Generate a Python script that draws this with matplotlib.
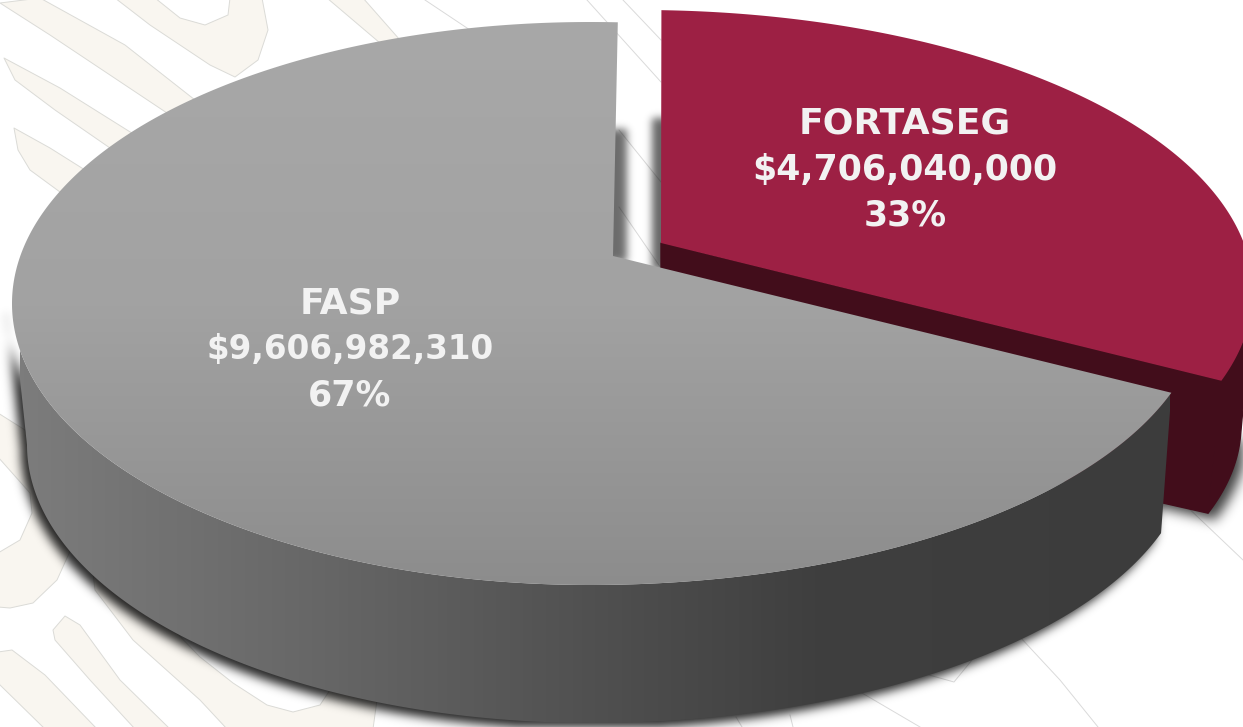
import numpy as np
import matplotlib
matplotlib.use("Agg")
import matplotlib.pyplot as plt
from matplotlib.path import Path
from matplotlib.patches import Polygon
from matplotlib.colors import LinearSegmentedColormap

# ---- data ----
categories = ["FORTASEG", "FASP"]
amounts = [4706040000, 9606982310]
percent_labels = ["33%", "67%"]
color_red_top = "#9d2044"
color_red_side = "#420d1b"

W, H = 1243, 727
fig = plt.figure(figsize=(W / 100, H / 100), dpi=100, facecolor="white")
ax = fig.add_axes([0, 0, 1, 1])
ax.set_xlim(0, W)
ax.set_ylim(H, 0)
ax.axis("off")

# ---- projection of the pie's slanted circles ----
M = 0.79                 # perspective squeeze of angles
PHI0 = np.radians(2.6)   # the "12 o'clock" of the tilted disc


def to_phi(theta):
    return PHI0 + 2 * np.arctan(M * np.tan(theta / 2))


def rim(phi, c, rxl, rxr, ry):
    s, co = np.sin(phi), np.cos(phi)
    rx = np.where(s < 0, rxl, rxr)
    return np.column_stack([c[0] + rx * s, c[1] - ry * co])


total = sum(amounts)
split = 2 * np.pi * amounts[0] / total
phi_split = to_phi(split)

# ---- background decoration ----
BEIGE = "#f9f6f0"
EDGE = "#dbdbd7"
shapes = [
    [(0, 3), (40, -2), (125, 45), (195, 100), (170, 115), (110, 75), (50, 35)],
    [(4, 58), (60, 88), (135, 135), (110, 148), (55, 110), (15, 80)],
    [(14, 128), (50, 148), (85, 170), (60, 192), (30, 170), (18, 150)],
    [(115, -2), (150, 25), (210, 65), (235, 77), (258, 60), (268, 30), (262, -2),
     (230, -2), (228, 15), (205, 25), (180, 18), (155, -2)],
    [(327, -2), (380, 43), (400, 40), (363, -2)],
    [(-2, 413), (25, 430), (72, 547), (57, 580), (33, 603), (10, 608), (-2, 607),
     (-2, 553), (20, 540), (32, 513), (30, 493), (-2, 457)],
    [(53, 630), (65, 616), (80, 625), (120, 680), (170, 729), (135, 729), (90, 680), (55, 640)],
    [(-2, 652), (12, 650), (45, 675), (97, 729), (45, 729), (-2, 683)],
    [(93, 573), (95, 590), (133, 640), (200, 700), (227, 729), (373, 729), (377, 700),
     (330, 690), (320, 705), (293, 712), (267, 705), (233, 683), (200, 657), (167, 623)],
]
for pts in shapes:
    ax.add_patch(Polygon(pts, closed=True, fc=BEIGE, ec=EDGE, lw=0.7, joinstyle="round", zorder=1))
thin_lines = [
    [(587, 0), (661, 82)], [(623, 0), (661, 40)], [(619, 130), (661, 182)],
    [(619, 207), (661, 268)], [(1020, 637), (1060, 680), (1098, 727)],
    [(862, 693), (920, 727)], [(929, 675), (954, 682), (972, 660)],
    [(1243, 560), (1180, 500)], [(425, 0), (470, 30)], [(736, 717), (742, 727)],
    [(790, 715), (793, 727)],
]
for seg in thin_lines:
    p = np.array(seg, float)
    ax.plot(p[:, 0], p[:, 1], color="#dadada", lw=0.7, zorder=1.2)

# ---- geometry ----
G_APEX = (613, 256)
G_TOP = dict(c=(590, 303.5), rxl=578, rxr=613, ry=281.5)
G_BOT = dict(c=(592, 445), rxl=565, rxr=600, ry=278)
R_APEX = (661, 243)
R_APEX_BOT = (661, 390)
R_TOP = dict(c=(640, 291.5), rxl=578, rxr=613, ry=281.5)
R_BOT = dict(c=(602, 425), rxl=565, rxr=639, ry=278)

phi_g = np.linspace(phi_split, 2 * np.pi + PHI0, 400)
phi_r = np.linspace(PHI0 * 0.77, phi_split, 200)
phi_front = np.linspace(phi_split, 1.5 * np.pi, 300)
phi_red_wall = np.linspace(np.radians(92), phi_split, 120)

gray_top = np.vstack([G_APEX, rim(phi_g, **G_TOP)])
gray_side = np.vstack([rim(phi_front, **G_TOP), rim(phi_front, **G_BOT)[::-1]])
red_top = np.vstack([R_APEX, rim(phi_r, **R_TOP)])
red_wall = np.vstack([rim(phi_red_wall, **R_TOP), rim(phi_red_wall, **R_BOT)[::-1]])
c_t = rim(np.array([phi_split]), **R_TOP)[0]
c_b = rim(np.array([phi_split]), **R_BOT)[0]
red_face = np.vstack([R_APEX, c_t, c_b, R_APEX_BOT])

# ---- soft shadows ----
yy, xx = np.mgrid[0:H, 0:W]
grid = np.column_stack([xx.ravel() + 0.5, yy.ravel() + 0.5])


def mask_of(poly):
    return Path(poly).contains_points(grid).reshape(H, W).astype(float)


def blur(img, sigma):
    # padded so that nothing wraps round the picture's edges
    P = 60
    padded = np.pad(img, P)
    h, w = padded.shape
    fy = np.fft.fftfreq(h)[:, None]
    fx = np.fft.rfftfreq(w)[None, :]
    g = np.exp(-2 * (np.pi * sigma) ** 2 * (fx ** 2 + fy ** 2))
    out = np.fft.irfft2(np.fft.rfft2(padded) * g, s=padded.shape)
    return out[P:-P, P:-P]


def shadow(poly, sigma, alpha, z):
    a = np.clip(blur(mask_of(poly), sigma), 0, 1) * alpha
    rgba = np.zeros((H, W, 4))
    rgba[..., 3] = a
    ax.imshow(rgba, extent=(0, W, H, 0), zorder=z, aspect="auto", interpolation="bilinear")


shadow(gray_side + np.array([-6, 6]), 5, 0.85, 2)
shadow(np.vstack([red_face, red_wall]) + np.array([7, 7]), 6, 0.75, 2)
shadow(np.array([[600, 129], [627, 129], [627, 262], [600, 262]], float), 4, 0.58, 2)
shadow(np.array([[652, 118], [690, 118], [690, 270], [652, 270]], float), 4, 0.6, 2)


# ---- gradients clipped to polygons ----
def gradient(poly, stops, vertical, z, span):
    cmap = LinearSegmentedColormap.from_list("g", stops)
    vals = np.linspace(0, 1, 256)
    arr = vals[:, None] if vertical else vals[None, :]
    ext = (0, W, span[1], span[0]) if vertical else (span[0], span[1], H, 0)
    im = ax.imshow(arr, cmap=cmap, vmin=0, vmax=1, extent=ext, zorder=z, aspect="auto")
    im.set_clip_path(Polygon(poly, closed=True, transform=ax.transData))


ax.add_patch(Polygon(red_wall, closed=True, fc=color_red_side, ec=color_red_side, lw=1, zorder=3))
ax.add_patch(Polygon(red_face, closed=True, fc=color_red_side, ec=color_red_side, lw=1, zorder=3))
ax.add_patch(Polygon(red_top, closed=True, fc=color_red_top, ec="none", zorder=4))
gradient(gray_side, [(0, "#7c7c7c"), (0.243, "#686868"), (0.393, "#5a5a5a"), (0.543, "#4c4c4c"),
                     (0.693, "#3f3f3f"), (1, "#3c3c3c")], False, 5, (20, 1170))
gradient(gray_top, [(0, "#a8a8a8"), (0.5, "#a2a2a2"), (1, "#8c8c8c")], True, 6, (22, 590))

ax.set_xlim(0, W)
ax.set_ylim(H, 0)

# ---- labels ----
fmt = [f"${v:,.0f}" for v in amounts]
baselines = [(905, (134, 180, 226)), (350, (313, 359, 405))]
money_sizes = [25, 23.5]
for name, money, pct, (x, ys), ms in zip(categories, fmt, percent_labels, baselines, money_sizes):
    for txt, y, fs in zip((name, money, pct), ys, (26, ms, 25)):
        ax.text(x, y, txt, ha="center", va="baseline", color="#f2f2f2", fontsize=fs,
                fontweight="bold", family="DejaVu Sans", zorder=8)

fig.savefig("out.png", dpi=100)
